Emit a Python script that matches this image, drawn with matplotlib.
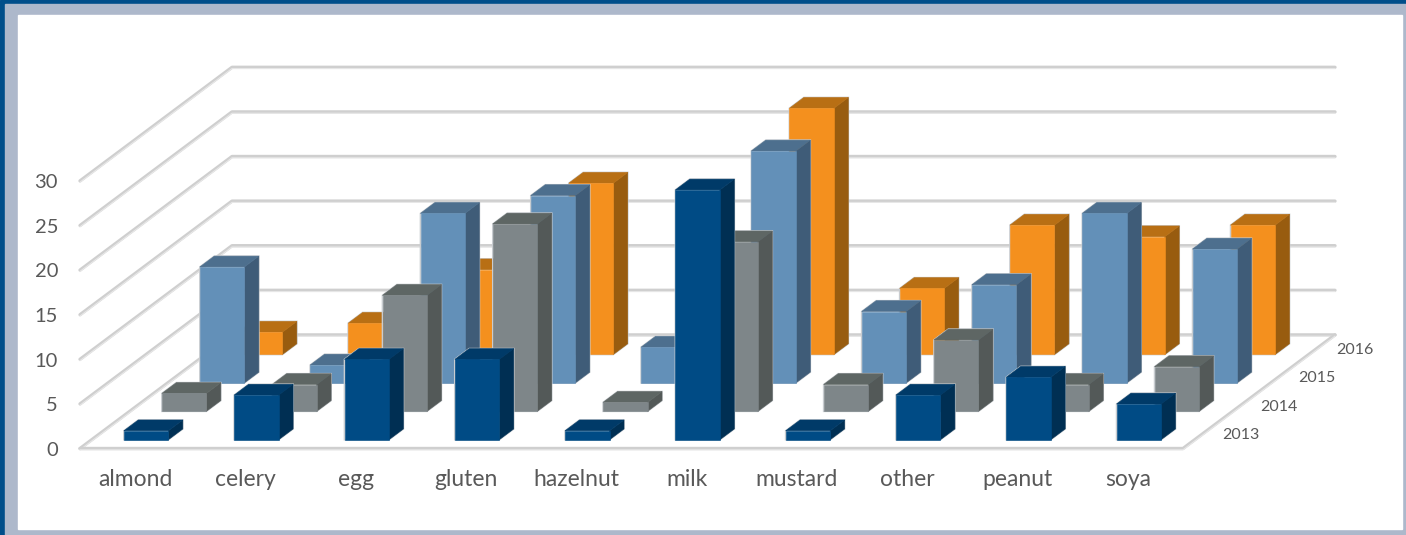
import matplotlib
matplotlib.use('Agg')
import matplotlib.pyplot as plt
from matplotlib.patches import Polygon, Rectangle
import numpy as np

plt.rcParams['font.family'] = ['Lato', 'DejaVu Sans']

categories = ['almond', 'celery', 'egg', 'gluten', 'hazelnut', 'milk', 'mustard', 'other', 'peanut', 'soya']
years = ['2013', '2014', '2015', '2016']
y2013 = [1, 5, 9, 9, 1, 28, 1, 5, 7, 4]
y2014 = [2, 3, 13, 21, 1, 19, 3, 8, 3, 5]
y2015 = [13, 2, 19, 21, 4, 26, 8, 11, 19, 15]
y2016 = [2.5, 3.5, 9.5, 19.2, 4, 27.6, 7.4, 14.5, 13.2, 14.5]
yticks = [0, 5, 10, 15, 20, 25, 30]

# front, top, side shades per series
colors = [('#004b85', '#003a68', '#002f53'),
          ('#7e8689', '#5e6664', '#535958'),
          ('#6390b8', '#4d6f8e', '#3f5c78'),
          ('#f4901e', '#b86f14', '#985c0f')]

# oblique projection: category along x, series going back, value upwards
X0, Y0 = 80.0, 448.5
CAT_W = 110.3
DX, DY = 38.0, -28.4
UNIT = 8.92
BAR_W = 0.403
BAR_D = 0.38
BAR_SHIFT = -0.8


def proj(c, s, v):
    return (X0 + c * CAT_W + s * DX, Y0 + s * DY - v * UNIT)


def wall_line(pts, ax):
    xs, ys = zip(*pts)
    ax.plot(xs, ys, color='#cfcfcf', lw=2.4, solid_capstyle='round', zorder=2)
    ax.plot(xs, np.array(ys) + 1.3, color='#e8e8e8', lw=0.8, zorder=2)


def bar(ax, c, s, v, cols, z):
    x0 = c + (1 - BAR_W) / 2
    x1 = x0 + BAR_W
    s0 = s + (1 - BAR_D) / 2
    s1 = s0 + BAR_D
    front = [proj(x0, s0, 0), proj(x1, s0, 0), proj(x1, s0, v), proj(x0, s0, v)]
    top = [proj(x0, s0, v), proj(x1, s0, v), proj(x1, s1, v), proj(x0, s1, v)]
    side = [proj(x1, s0, 0), proj(x1, s1, 0), proj(x1, s1, v), proj(x1, s0, v)]
    outline = [front[0], front[1], side[1], side[2], top[3], front[3]]
    outline = [(px + BAR_SHIFT, py) for px, py in outline]
    # soft grey rim round the whole block
    ax.add_patch(Polygon(outline, closed=True, facecolor='none', edgecolor='#c8ccd0',
                         lw=1.2, zorder=z))
    for pts, col in zip((side, top, front), (cols[2], cols[1], cols[0])):
        pts = [(px + BAR_SHIFT, py) for px, py in pts]
        ax.add_patch(Polygon(pts, closed=True, facecolor=col, edgecolor=col,
                             lw=0.4, zorder=z))


fig = plt.figure(figsize=(14.06, 5.35), dpi=100)
ax = fig.add_axes([0, 0, 1, 1])
ax.set_xlim(0, 1406)
ax.set_ylim(535, 0)
ax.axis('off')

# slide frame behind the chart
ax.add_patch(Rectangle((0, 0), 1406, 535, color='#004e8a', zorder=0))
ax.add_patch(Rectangle((5, 4), 1401, 531, color='#adb8cb', zorder=0))
ax.add_patch(Rectangle((18, 14.5), 1383.5, 514.5, color='white', zorder=0))

n = len(categories)
for t in yticks:
    wall_line([proj(0, 0, t), proj(0, 4, t), proj(n, 4, t)], ax)
    ax.text(58, proj(0, 0, t)[1] + 1.8, str(t), color='#595959', fontsize=14.5,
            ha='right', va='center', zorder=5)
wall_line([proj(0, 0, 0), proj(n, 0, 0), proj(n, 4, 0)], ax)

for s, vals in reversed(list(enumerate([y2013, y2014, y2015, y2016]))):
    for c, v in enumerate(vals):
        bar(ax, c, s, v, colors[s], 3 + (3 - s) * 0.1 + c * 0.001)

for c, name in enumerate(categories):
    ax.text(proj(c + 0.5, 0, 0)[0], 479.5, name, color='#595959', fontsize=16.5,
            ha='center', va='center', zorder=5)
for s, year in enumerate(years):
    px, py = proj(n, s + 0.5, 0)
    ax.text(px + 20, py + 1, year, color='#595959', fontsize=11.5,
            ha='left', va='center', zorder=5)

fig.savefig('out.png', dpi=100)
